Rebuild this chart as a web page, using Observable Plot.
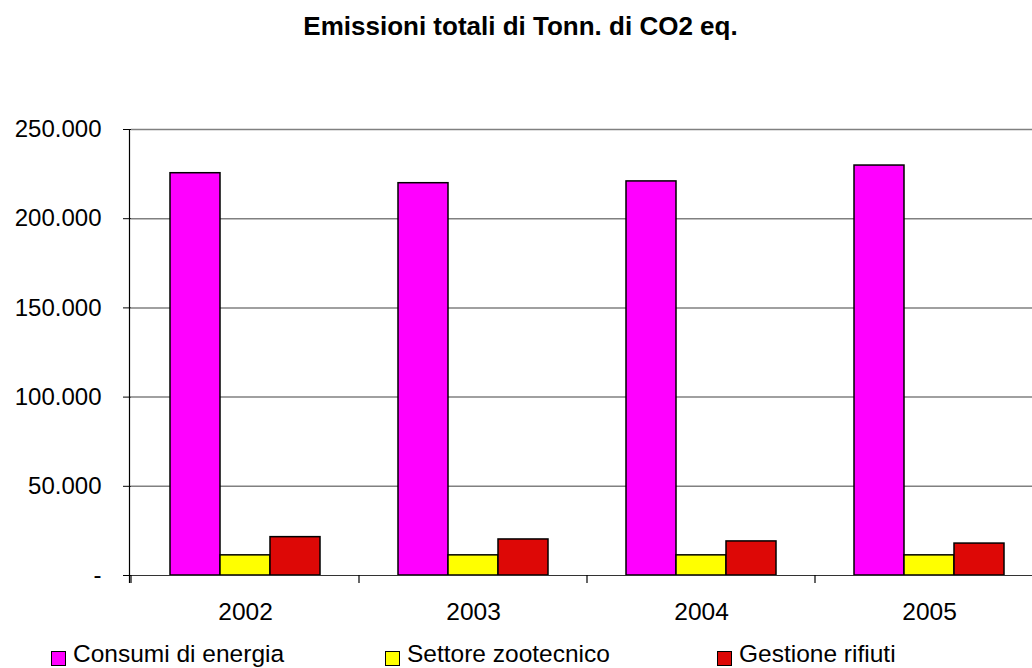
<!DOCTYPE html>
<html>
<head>
<meta charset="utf-8">
<script src="https://cdn.jsdelivr.net/npm/d3@7"></script>
<script src="https://cdn.jsdelivr.net/npm/@observablehq/plot@0.6"></script>
<style>
  html, body { margin: 0; padding: 0; background: #fff; overflow: hidden; }
  body { width: 1032px; height: 668px; font-family: "Liberation Sans", Arial, sans-serif; }
  #title { height: 100px; box-sizing: border-box; padding-top: 11px; padding-left: 9px; width: 1032px; text-align: center;
           font-weight: bold; font-size: 26px; line-height: 30px; color: #000; }
  #chart { width: 1032px; height: 525px; overflow: hidden; }
  #chart svg { display: block; max-width: none !important; }
  #legend { position: relative; height: 43px; font-size: 24.5px; color: #000; }
  .item { position: absolute; top: 14px; display: flex; align-items: flex-start; line-height: 30px; white-space: nowrap; }
  .sw { width: 15px; height: 15px; border: 1.5px solid #000; margin-right: 7px; margin-top: 12px; box-sizing: border-box; }
</style>
</head>
<body>
<div id="title">Emissioni totali di Tonn. di CO2 eq.</div>
<div id="chart"></div>
<div id="legend"></div>
<script>
const years = ["2002", "2003", "2004", "2005"];
const seriesNames = ["Consumi di energia", "Settore zootecnico", "Gestione rifiuti"];
const seriesColors = ["#FF00FF", "#FFFF00", "#DD0806"];
const consumiEnergia = [225500, 219900, 220900, 229800];
const settoreZootecnico = [11300, 11300, 11300, 11300];
const gestioneRifiuti = [21500, 20200, 19100, 17900];
const yTicks = [0, 50000, 100000, 150000, 200000, 250000];
const yTickLabels = ["-", "50.000", "100.000", "150.000", "200.000", "250.000"];
const legendLeft = [51, 385, 717];

const seriesValues = [consumiEnergia, settoreZootecnico, gestioneRifiuti];
const data = [];
years.forEach((yr, i) => {
  seriesNames.forEach((s, j) => data.push({year: yr, series: s, value: seriesValues[j][i]}));
});

const plot = Plot.plot({
  width: 1044,
  height: 525,
  marginLeft: 129,
  marginRight: 0,
  marginTop: 29,
  marginBottom: 50,
  style: {fontFamily: "Liberation Sans, Arial, sans-serif", fontSize: "24px", color: "#000", background: "#fff", maxWidth: "none"},
  fx: {domain: years, padding: 0, label: null},
  x: {domain: seriesNames, paddingInner: 0, paddingOuter: 0.75, axis: null},
  y: {domain: [0, 250000], label: null},
  color: {domain: seriesNames, range: seriesColors},
  marks: [
    Plot.ruleY(yTicks.filter(d => d > 0), {stroke: "#808080", strokeWidth: 1.5, strokeOpacity: 1}),
    Plot.barY(data, {fx: "year", x: "series", y: "value", fill: "series", stroke: "#000", strokeWidth: 1.5, inset: 0}),
    Plot.ruleY([0], {stroke: "#333", strokeWidth: 1.2}),
    Plot.axisY({ticks: yTicks, tickFormat: (d) => yTickLabels[yTicks.indexOf(d)], tickSize: 8, tickPadding: 22,
                fontSize: 24, stroke: "#000", strokeOpacity: 1, label: null, facetAnchor: "left"}),
    Plot.axisFx({anchor: "bottom", tickSize: 0, tickPadding: 27, fontSize: 24.5, label: null})
  ]
});
document.getElementById("chart").appendChild(plot);

// vertical axis line and category boundary ticks, positioned through the fx and y scales
const fx = plot.scale("fx");
const yS = plot.scale("y");
const svg = d3.select(plot);
const y0 = yS.apply(0), yTop = yS.apply(250000);
svg.append("line").attr("x1", 129.5).attr("x2", 129.5).attr("y1", yTop).attr("y2", y0 + 8)
  .attr("stroke", "#000").attr("stroke-width", 1.2);
const bounds = years.map(y => fx.apply(y)).concat([fx.apply(years[years.length - 1]) + fx.bandwidth]);
bounds.forEach(b => svg.append("line").attr("x1", b).attr("x2", b).attr("y1", y0).attr("y2", y0 + 8)
  .attr("stroke", "#000").attr("stroke-width", 1.2));

const legend = document.getElementById("legend");
seriesNames.forEach((s, i) => {
  const it = document.createElement("div");
  it.className = "item";
  it.style.left = legendLeft[i] + "px";
  const sw = document.createElement("span");
  sw.className = "sw";
  sw.style.background = seriesColors[i];
  it.appendChild(sw);
  it.appendChild(document.createTextNode(s));
  legend.appendChild(it);
});
</script>
</body>
</html>
